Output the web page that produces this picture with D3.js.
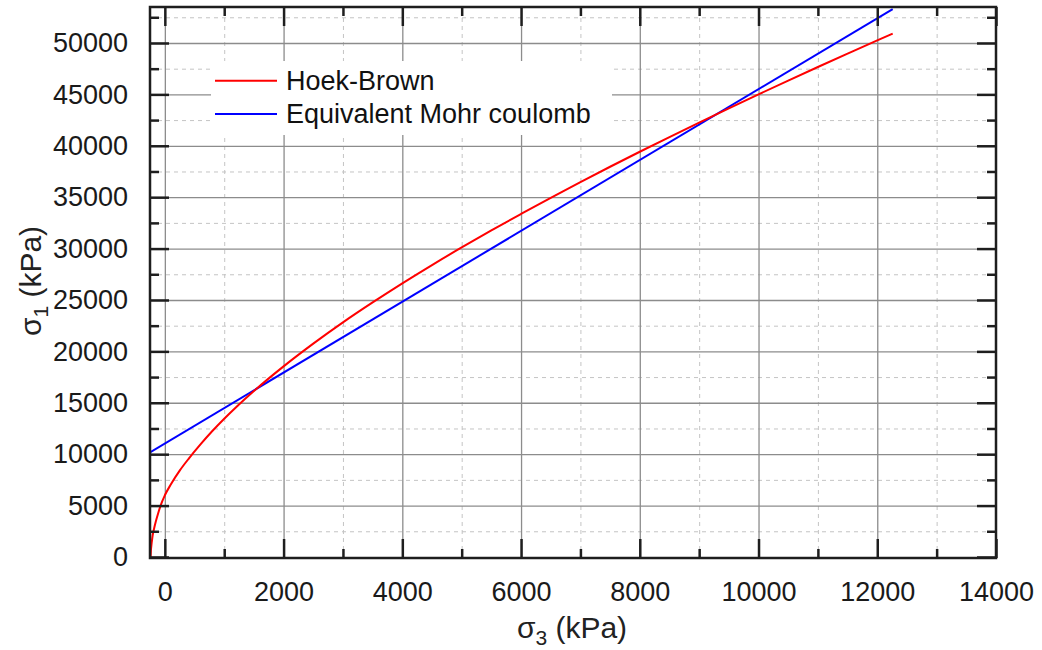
<!DOCTYPE html>
<html>
<head>
<meta charset="utf-8">
<script src="https://cdn.jsdelivr.net/npm/d3@7"></script>
<style>
  html, body { margin: 0; padding: 0; background: #fff; }
  svg { display: block; font-family: "Liberation Sans", Arial, sans-serif; }
</style>
</head>
<body>
<svg id="chart" width="1042" height="650"></svg>
<script>
// ---- data ----
const hoekBrownSigma3 = [-240, -235, -228, -219, -205, -180, -150, -110, -72, 0, 100, 250, 400, 600, 800,
  1000, 1200, 1500, 2000, 2500, 3000, 3500, 4000, 4500, 5000, 5500, 6000, 6500, 7000, 7500, 8000,
  8500, 9000, 9500, 10000, 10500, 11000, 11500, 12000, 12260];
const hoekBrownSigma1 = [0, 600, 1050, 1500, 2100, 2800, 3500, 4300, 5000, 6000, 7050, 8400, 9550, 10950, 12250,
  13450, 14570, 16140, 18540, 20750, 22820, 24760, 26620, 28400, 30110, 31770, 33370, 34940, 36470, 37960, 39420,
  40850, 42260, 43640, 45000, 46340, 47660, 48960, 50250, 50910];
const mohrSigma3 = [-250, 12260];
const mohrSigma1 = [10180, 53300];

const seriesNames = ["Hoek-Brown", "Equivalent Mohr coulomb"];
const seriesColors = ["#ff0000", "#0000ff"];

const xMajorTicks = [0, 2000, 4000, 6000, 8000, 10000, 12000, 14000];
const xMinorTicks = [1000, 3000, 5000, 7000, 9000, 11000, 13000];
const yMajorTicks = [0, 5000, 10000, 15000, 20000, 25000, 30000, 35000, 40000, 45000, 50000];
const yMinorTicks = [2500, 7500, 12500, 17500, 22500, 27500, 32500, 37500, 42500, 47500, 52500];

const xDomain = [-250, 14000];
const yDomain = [-100, 53500];

// ---- layout ----
const L = 150, R = 996, T = 7, B = 558;
const svg = d3.select("#chart");
svg.append("rect").attr("width", 1042).attr("height", 650).attr("fill", "#fff");

const x = d3.scaleLinear().domain(xDomain).range([L, R]);
const y = d3.scaleLinear().domain(yDomain).range([B, T]);

// grid lines
const grid = svg.append("g");
grid.append("g").attr("transform", `translate(0,${B})`)
  .call(d3.axisBottom(x).tickValues(xMinorTicks).tickSize(-(B - T)).tickFormat(""))
  .call(g => g.select(".domain").remove())
  .call(g => g.selectAll("line").attr("stroke", "#c4c4c4").attr("stroke-width", 1).attr("stroke-dasharray", "4,4"));
grid.append("g").attr("transform", `translate(${L},0)`)
  .call(d3.axisLeft(y).tickValues(yMinorTicks).tickSize(-(R - L)).tickFormat(""))
  .call(g => g.select(".domain").remove())
  .call(g => g.selectAll("line").attr("stroke", "#c4c4c4").attr("stroke-width", 1).attr("stroke-dasharray", "4,4"));
grid.append("g").attr("transform", `translate(0,${B})`)
  .call(d3.axisBottom(x).tickValues(xMajorTicks.filter(v => v < 14000)).tickSize(-(B - T)).tickFormat(""))
  .call(g => g.select(".domain").remove())
  .call(g => g.selectAll("line").attr("stroke", "#8c8c8c").attr("stroke-width", 1.3));
grid.append("g").attr("transform", `translate(${L},0)`)
  .call(d3.axisLeft(y).tickValues(yMajorTicks.filter(v => v > 0)).tickSize(-(R - L)).tickFormat(""))
  .call(g => g.select(".domain").remove())
  .call(g => g.selectAll("line").attr("stroke", "#8c8c8c").attr("stroke-width", 1.3));

// legend background (covers grid)
const legX = 211, legY = 61, legW = 401, legH = 74;
svg.append("rect").attr("x", legX).attr("y", legY).attr("width", legW).attr("height", legH).attr("fill", "#fff");

// curves
svg.append("clipPath").attr("id", "clip").append("rect")
  .attr("x", L).attr("y", T).attr("width", R - L).attr("height", B - T);
const line = d3.line().x(d => x(d[0])).y(d => y(d[1])).curve(d3.curveMonotoneX);
const hb = hoekBrownSigma3.map((v, i) => [v, hoekBrownSigma1[i]]);
const mc = mohrSigma3.map((v, i) => [v, mohrSigma1[i]]);
const plot = svg.append("g").attr("clip-path", "url(#clip)");
plot.append("path").datum(mc).attr("d", line).attr("fill", "none")
  .attr("stroke", seriesColors[1]).attr("stroke-width", 2);
plot.append("path").datum(hb).attr("d", line).attr("fill", "none")
  .attr("stroke", seriesColors[0]).attr("stroke-width", 2);

// axes (inward ticks on all four sides)
const axisColor = "#1e1e1e";
function styleAxis(g) {
  g.select(".domain").remove();
  g.selectAll("line").attr("stroke", axisColor).attr("stroke-width", 2.5);
  g.selectAll("text").attr("fill", "#1a1a1a").style("font-size", "27px")
    .style("font-family", '"Liberation Sans", Arial, sans-serif');
}
const fmt = d3.format("d");
svg.append("g").attr("transform", `translate(0,${B})`)
  .call(d3.axisBottom(x).tickValues(xMajorTicks).tickSizeInner(-19).tickSizeOuter(0).tickPadding(24).tickFormat(fmt))
  .call(styleAxis);
svg.append("g").attr("transform", `translate(0,${B})`)
  .call(d3.axisBottom(x).tickValues(xMinorTicks).tickSizeInner(-9).tickSizeOuter(0).tickFormat(""))
  .call(styleAxis);
svg.append("g").attr("transform", `translate(0,${T})`)
  .call(d3.axisTop(x).tickValues(xMajorTicks).tickSizeInner(-19).tickSizeOuter(0).tickFormat(""))
  .call(styleAxis);
svg.append("g").attr("transform", `translate(0,${T})`)
  .call(d3.axisTop(x).tickValues(xMinorTicks).tickSizeInner(-9).tickSizeOuter(0).tickFormat(""))
  .call(styleAxis);
svg.append("g").attr("transform", `translate(${L},0)`)
  .call(d3.axisLeft(y).tickValues(yMajorTicks).tickSizeInner(-19).tickSizeOuter(0).tickPadding(22).tickFormat(fmt))
  .call(styleAxis);
svg.append("g").attr("transform", `translate(${L},0)`)
  .call(d3.axisLeft(y).tickValues(yMinorTicks).tickSizeInner(-9).tickSizeOuter(0).tickFormat(""))
  .call(styleAxis);
svg.append("g").attr("transform", `translate(${R},0)`)
  .call(d3.axisRight(y).tickValues(yMajorTicks).tickSizeInner(-19).tickSizeOuter(0).tickFormat(""))
  .call(styleAxis);
svg.append("g").attr("transform", `translate(${R},0)`)
  .call(d3.axisRight(y).tickValues(yMinorTicks).tickSizeInner(-9).tickSizeOuter(0).tickFormat(""))
  .call(styleAxis);

// frame
svg.append("rect").attr("x", L).attr("y", T).attr("width", R - L).attr("height", B - T)
  .attr("fill", "none").attr("stroke", axisColor).attr("stroke-width", 2.5);

// legend
const leg = svg.append("g");
seriesNames.forEach((name, i) => {
  const ly = 80.7 + i * 33.3;
  leg.append("line").attr("x1", 215).attr("x2", 277).attr("y1", ly).attr("y2", ly)
    .attr("stroke", seriesColors[i]).attr("stroke-width", 2);
  leg.append("text").attr("x", 286).attr("y", ly).attr("dy", "0.35em")
    .style("font-size", "27px").attr("fill", "#111").text(name);
});

// axis titles
const xt = svg.append("text").attr("x", 572).attr("y", 638).attr("text-anchor", "middle")
  .style("font-size", "30px").attr("fill", "#222");
xt.append("tspan").text("σ");
xt.append("tspan").attr("dy", 7).style("font-size", "21px").text("3");
xt.append("tspan").attr("dy", -7).text(" (kPa)");

const yt = svg.append("text").attr("transform", "translate(41,281) rotate(-90)").attr("text-anchor", "middle")
  .style("font-size", "30px").attr("fill", "#222");
yt.append("tspan").text("σ");
yt.append("tspan").attr("dy", 7).style("font-size", "21px").text("1");
yt.append("tspan").attr("dy", -7).text(" (kPa)");
</script>
</body>
</html>
